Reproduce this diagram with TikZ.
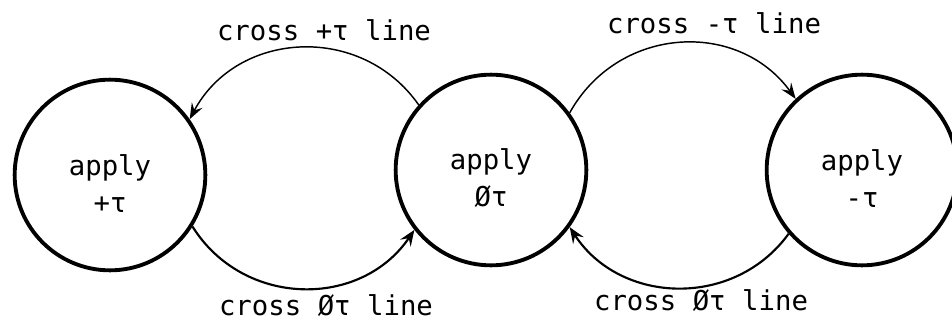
\documentclass[tikz,border=0pt]{standalone}
\usepackage{fontspec}
\setmonofont{DejaVu Sans Mono}
\usetikzlibrary{arrows.meta}
\begin{document}
\begin{tikzpicture}[x=0.75pt,y=-0.75pt,
  state/.style={circle,draw,line width=2.9pt,inner sep=0pt,minimum size=143pt,
    align=center,font=\ttfamily\fontsize{20.5}{28}\selectfont},
  lab/.style={anchor=base,inner sep=0pt,font=\ttfamily\fontsize{20.5}{24}\selectfont},
  thinarc/.style={line width=1.1pt,-{Stealth[length=12pt,width=9pt,inset=4.5pt]}},
  thickarc/.style={line width=1.6pt,-{Stealth[length=12pt,width=9.5pt,inset=4.5pt]}}]
\useasboundingbox (0,0) rectangle (952,321);
\node[state] (L) at (110,175) {\rule{0pt}{28pt}apply\\+τ};
\node[state] (M) at (491,170) {\rule{0pt}{28pt}apply\\Øτ};
\node[state] (R) at (862,170) {\rule{0pt}{28pt}apply\\-τ};
\node[lab] (t1) at (324,41) {cross +τ line};
\node[lab] (t2) at (714,34) {cross -τ line};
\node[lab] (b1) at (326,315) {cross Øτ line};
\node[lab] (b2) at (701,310) {cross Øτ line};
\draw[thinarc] (M.138) to[out=125,in=62,looseness=1.12] (L.35);
\draw[thickarc] (L.-32) to[out=-58,in=236,looseness=1.1] (M.218);
\draw[thinarc] (M.36) to[out=61,in=126,looseness=1.12] (R.133);
\draw[thickarc] (R.221) to[out=234,in=303,looseness=1.08] (M.-36);
\end{tikzpicture}
\end{document}
